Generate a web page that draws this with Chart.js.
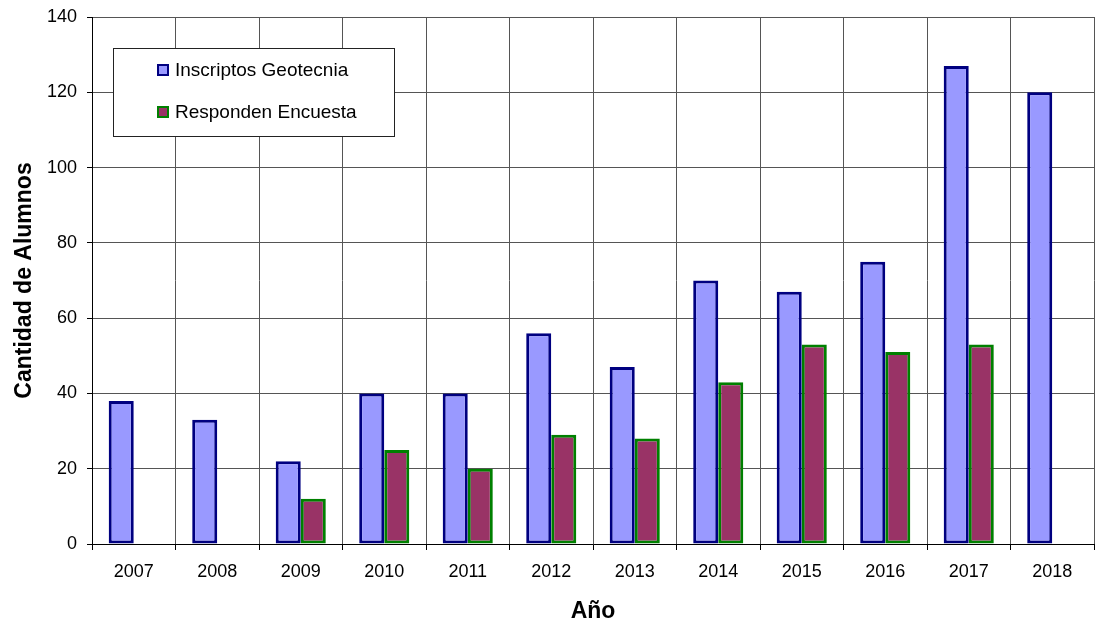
<!DOCTYPE html>
<html>
<head>
<meta charset="utf-8">
<script src="https://cdn.jsdelivr.net/npm/chart.js@4/dist/chart.umd.min.js"></script>
<style>
    body { margin: 0; background: #fff; }
    #wrap { width: 1095px; height: 625px; }
</style>
</head>
<body>
<div id="wrap"><canvas id="alumnosChart" width="1095" height="625"></canvas></div>
<script>
// Students per year: enrolled vs. survey answers
const years = ['2007', '2008', '2009', '2010', '2011', '2012', '2013', '2014', '2015', '2016', '2017', '2018'];
const inscriptos = [38, 33, 22, 40, 40, 56, 47, 70, 67, 75, 127, 120];
const encuesta = [null, null, 12, 25, 20, 29, 28, 43, 53, 51, 53, null];
const yMin = 0;
const yMax = 140;
const yStep = 20;

const FONT = '"Liberation Sans", Arial, sans-serif';

// Legend box drawn inside the plot area, top-left
const insideLegend = {
    id: 'insideLegend',
    afterDraw(chart) {
        const { ctx, chartArea } = chart;
        const x = chartArea.left + 21;
        const y = chartArea.top + 31;
        const w = 281;
        const h = 88;

        ctx.save();
        ctx.fillStyle = '#ffffff';
        ctx.fillRect(x, y, w, h);
        ctx.strokeStyle = '#222';
        ctx.lineWidth = 1;
        ctx.strokeRect(x + 0.5, y + 0.5, w, h);

        ctx.font = '19px ' + FONT;
        ctx.textBaseline = 'middle';
        ctx.textAlign = 'left';

        chart.data.datasets.forEach((ds, i) => {
            const cy = y + 22 + i * 42;
            const mx = x + 44;
            ctx.fillStyle = ds.borderColor;
            ctx.fillRect(mx, cy - 6, 12, 12);
            ctx.fillStyle = ds.backgroundColor;
            ctx.fillRect(mx + 2, cy - 4, 8, 8);
            ctx.fillStyle = '#000';
            ctx.fillText(ds.label, mx + 18, cy + 1);
        });
        ctx.restore();
    }
};

new Chart(document.getElementById('alumnosChart'), {
    type: 'bar',
    data: {
        labels: years,
        datasets: [
            {
                label: 'Inscriptos Geotecnia',
                data: inscriptos,
                backgroundColor: '#9999FF',
                borderColor: '#000080',
                borderWidth: 3,
                borderSkipped: false
            },
            {
                label: 'Responden Encuesta',
                data: encuesta,
                backgroundColor: '#993366',
                borderColor: '#008000',
                borderWidth: 3,
                borderSkipped: false
            }
        ]
    },
    options: {
        responsive: false,
        animation: false,
        layout: {
            padding: { top: 17, right: 1, left: 0, bottom: 0 }
        },
        plugins: {
            legend: { display: false },
            tooltip: { enabled: false }
        },
        datasets: {
            bar: {
                categoryPercentage: 0.6,
                barPercentage: 1.0
            }
        },
        scales: {
            x: {
                grid: {
                    color: '#555',
                    lineWidth: 1,
                    offset: true,
                    drawTicks: true,
                    tickLength: 6,
                    tickColor: '#000'
                },
                border: { color: '#000', width: 1 },
                ticks: {
                    color: '#000',
                    padding: 11,
                    font: { family: FONT, size: 18 }
                },
                title: {
                    display: true,
                    text: 'Año',
                    color: '#000',
                    padding: { top: 0, bottom: 0 },
                    font: { family: FONT, size: 23, weight: 'bold' }
                },
                afterFit(scale) {
                    scale.height = 81;
                }
            },
            y: {
                min: yMin,
                max: yMax,
                grid: {
                    color: '#555',
                    lineWidth: 1,
                    drawTicks: true,
                    tickLength: 5,
                    tickColor: '#000'
                },
                border: { color: '#000', width: 1 },
                ticks: {
                    stepSize: yStep,
                    color: '#000',
                    padding: 10,
                    font: { family: FONT, size: 18 }
                },
                title: {
                    display: true,
                    text: 'Cantidad de Alumnos',
                    color: '#000',
                    padding: { top: 11, bottom: 0 },
                    font: { family: FONT, size: 23, weight: 'bold' }
                },
                afterFit(scale) {
                    scale.width = 92;
                    // top label overflow is covered by the layout padding
                    scale.paddingTop = 0;
                    scale.paddingBottom = 0;
                }
            }
        }
    },
    plugins: [insideLegend]
});
</script>
</body>
</html>
